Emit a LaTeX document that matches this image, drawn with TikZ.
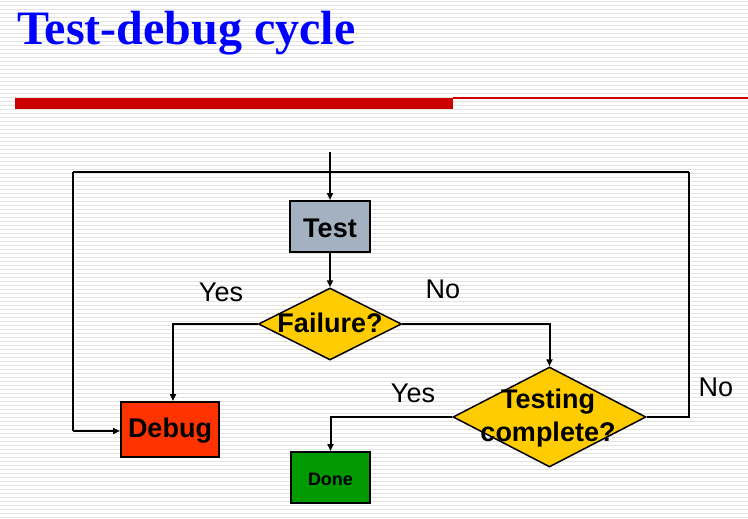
\documentclass[tikz,border=0pt]{standalone}
\usepackage{fontspec}
\setmainfont{Liberation Sans}
\newfontfamily\titlefont{Liberation Serif}
\usetikzlibrary{shapes.geometric,arrows.meta}
\definecolor{titleblue}{HTML}{0000FF}
\definecolor{barred}{HTML}{CC0000}
\definecolor{stripe}{HTML}{E2E2E2}
\definecolor{testfill}{HTML}{A3B1C1}
\definecolor{decfill}{HTML}{FFCC00}
\definecolor{debugfill}{HTML}{FF3300}
\definecolor{donefill}{HTML}{009900}
\tikzset{
  flowbox/.style={draw=black, line width=2pt, inner sep=0pt},
  decision/.style={diamond, draw=black, line width=1.2pt, fill=decfill, inner sep=0pt,
    minimum width=#1},
  boxtext/.style={font=\fontsize{27}{33}\selectfont\bfseries, inner sep=0pt, align=center},
  lbl/.style={font=\fontsize{27}{30}\selectfont, inner sep=0pt},
  flow/.style={line width=2pt, -{Triangle[length=7pt,width=6pt]}},
  plain/.style={line width=2pt}
}
\begin{document}
\begin{tikzpicture}[x=1pt, y=-1pt]
\useasboundingbox (0,0) rectangle (748,519);
% striped slide background
\fill[white] (0,0) rectangle (748,519);
\foreach \k in {0,...,129}{
  \fill[stripe] (0,{4*\k+1}) rectangle (748,{4*\k+2.3});
}
% title and rule
\node[anchor=base west, inner sep=0pt, text=titleblue,
  font=\titlefont\fontsize{48}{52}\selectfont\bfseries] (title) at (17,45) {Test-debug cycle};
\fill[barred] (15,98) rectangle (453,109);
\fill[barred] (453,97.5) rectangle (748,99);

% boxes
\node[flowbox, fill=testfill, minimum width=80pt, minimum height=51pt] (test) at (330,226.5) {};
\node[boxtext] at (330,228) {Test};
\node[flowbox, fill=debugfill, minimum width=98pt, minimum height=55pt] (debug) at (170,429.5) {};
\node[boxtext] at (170,431) {Debug};
\node[flowbox, fill=donefill, minimum width=79pt, minimum height=51pt] (done) at (330.5,477.5) {};
\node[boxtext, font=\fontsize{18}{20}\selectfont\bfseries] at (330.5,479) {Done};

% decisions
\node[diamond, draw=black, line width=1.5pt, fill=decfill, inner sep=0pt,
  minimum width=143pt, minimum height=72pt, shape aspect=2] (fail) at (330,324) {};
\node[boxtext] at (330,323) {Failure?};
\node[diamond, draw=black, line width=1.5pt, fill=decfill, inner sep=0pt,
  minimum width=193pt, minimum height=100pt, shape aspect=1.93] (tc) at (549.5,417) {};
\node[boxtext, font=\fontsize{27}{33}\selectfont\bfseries] at (548,418) {Testing\\complete?};

% routing points
\coordinate (in) at (330,152);
\coordinate (topL) at (73,172);
\coordinate (topR) at (689,172);
\coordinate (botL) at (73,431);

% connectors
\draw[flow] (in) -- (test.north);
\draw[plain] (topL) -- (topR);
\draw[flow] (test.south) -- (fail.north);
\draw[flow] (fail.west) -| (debug.north -| 173,0);
\draw[flow] (fail.east) -| (tc.north);
\draw[flow] (tc.west) -| (done.north);
\draw[plain] (tc.east) -| (topR);
\draw[plain] (topL) -- (botL);
\draw[flow] (botL) -- (debug.west |- botL);

% branch labels
\node[lbl] (y1) at (221,292) {Yes};
\node[lbl] (n1) at (443,289) {No};
\node[lbl] (y2) at (413,393) {Yes};
\node[lbl] (n2) at (716,387) {No};
\end{tikzpicture}
\end{document}
